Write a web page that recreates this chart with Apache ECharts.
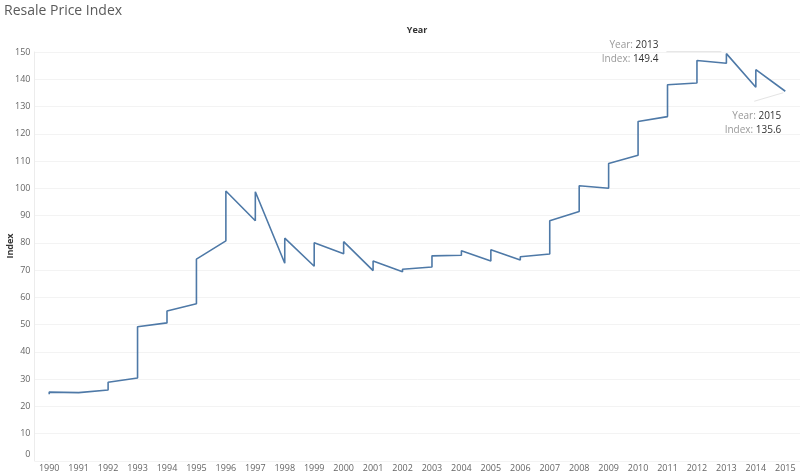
<!DOCTYPE html>
<html>
<head>
<meta charset="utf-8">
<script src="https://cdn.jsdelivr.net/npm/echarts@6/dist/echarts.min.js"></script>
<style>html,body{margin:0;padding:0;background:#fff}#c{width:800px;height:474px}</style>
</head>
<body>
<div id="c"></div>
<script>
// ---- data ----
const years = ['1990','1991','1992','1993','1994','1995','1996','1997','1998','1999','2000','2001','2002','2003','2004','2005','2006','2007','2008','2009','2010','2011','2012','2013','2014','2015'];
// index value where the line reaches each year
const enterIndex = [24.4,25.0,26.0,30.4,50.6,57.6,80.7,88.1,72.5,71.4,76.0,69.8,69.4,71.1,75.4,73.3,73.7,75.9,91.5,100.0,112.1,126.3,138.6,145.9,137.1,135.6];
// index value where the line leaves each year
const leaveIndex = [25.2,25.7,28.8,49.2,55.0,74.0,99.0,98.7,81.7,80.0,80.4,73.3,70.3,75.2,77.1,77.4,74.9,88.1,100.9,109.1,124.5,138.0,146.9,149.4,143.5,135.6];
const yTicks = [0,10,20,30,40,50,60,70,80,90,100,110,120,130,140,150];
const annotations = [
  {year: '2013', value: 149.4},
  {year: '2015', value: 135.6}
];

const seriesData = [];
years.forEach((y, i) => {
  seriesData.push([i, enterIndex[i]]);
  seriesData.push([i, leaveIndex[i]]);
});

const chart = echarts.init(document.getElementById('c'), null, {renderer: 'canvas'});
const FONT = 'Open Sans';
chart.setOption({
  animation: false,
  backgroundColor: '#fff',
  grid: {left: 34.5, right: 0, top: 52, bottom: 13.2, containLabel: false, outerBoundsMode: 'none'},
  xAxis: {
    type: 'category',
    data: years,
    boundaryGap: true,
    axisLine: {show: false},
    axisTick: {show: false},
    axisLabel: {color: '#666', fontSize: 9, fontFamily: FONT, margin: 3, interval: 0},
    splitLine: {show: false}
  },
  yAxis: {
    type: 'value',
    min: yTicks[0],
    max: yTicks[yTicks.length - 1],
    interval: 10,
    axisLine: {show: true, lineStyle: {color: '#ececec', width: 1}},
    axisTick: {show: false},
    axisLabel: {
      color: '#666', fontSize: 9, fontFamily: FONT, margin: 4,
      formatter: v => v === 0 ? '{z|0}' : String(v),
      rich: {z: {color: '#666', fontSize: 9, fontFamily: FONT, padding: [0, 0, 13, 0]}}
    },
    splitLine: {show: true, lineStyle: {color: '#f3f3f3', width: 1}}
  },
  series: [{
    type: 'line',
    data: seriesData,
    showSymbol: false,
    symbol: 'none',
    lineStyle: {color: '#4e79a7', width: 1.6},
    itemStyle: {color: '#4e79a7'}
  }]
});

const elements = [
  {type: 'text', left: 4, top: 4, style: {text: 'Resale Price Index', fill: '#5a5a5a', font: '14px "Open Sans"'}},
  {type: 'text', x: 417, y: 30, style: {text: 'Year', fill: '#333', font: 'bold 9px "Open Sans"', align: 'center', verticalAlign: 'middle'}},
  {type: 'text', x: 10, y: 246, rotation: Math.PI / 2, style: {text: 'Index', fill: '#333', font: 'bold 9px "Open Sans"', align: 'center', verticalAlign: 'middle'}}
];

// annotation 1 (peak)
const a1 = chart.convertToPixel({seriesIndex: 0}, [years.indexOf(annotations[0].year), annotations[0].value]);
elements.push({type: 'line', shape: {x1: a1[0] - 5, y1: a1[1] - 2, x2: a1[0] - 60, y2: a1[1] - 2}, style: {stroke: '#e4e4e4', lineWidth: 1}});
elements.push({type: 'text', x: a1[0] - 68, y: a1[1] - 8, style: {
  text: '{l|Year: }{v|' + annotations[0].year + '}', align: 'right', verticalAlign: 'middle',
  rich: {l: {fill: '#999', font: '10px "Open Sans"'}, v: {fill: '#333', font: '10px "Open Sans"'}}}});
elements.push({type: 'text', x: a1[0] - 68, y: a1[1] + 5.5, style: {
  text: '{l|Index: }{v|' + annotations[0].value.toFixed(1) + '}', align: 'right', verticalAlign: 'middle',
  rich: {l: {fill: '#999', font: '10px "Open Sans"'}, v: {fill: '#333', font: '10px "Open Sans"'}}}});

// annotation 2 (last)
const a2 = chart.convertToPixel({seriesIndex: 0}, [years.indexOf(annotations[1].year), annotations[1].value]);
elements.push({type: 'line', shape: {x1: a2[0] - 2, y1: a2[1] + 1.5, x2: a2[0] - 31, y2: a2[1] + 10}, style: {stroke: '#e4e4e4', lineWidth: 1}});
elements.push({type: 'text', x: a2[0] - 4, y: a2[1] + 25, style: {
  text: '{l|Year: }{v|' + annotations[1].year + '}', align: 'right', verticalAlign: 'middle',
  rich: {l: {fill: '#999', font: '10px "Open Sans"'}, v: {fill: '#333', font: '10px "Open Sans"'}}}});
elements.push({type: 'text', x: a2[0] - 4, y: a2[1] + 38.5, style: {
  text: '{l|Index: }{v|' + annotations[1].value.toFixed(1) + '}', align: 'right', verticalAlign: 'middle',
  rich: {l: {fill: '#999', font: '10px "Open Sans"'}, v: {fill: '#333', font: '10px "Open Sans"'}}}});

chart.setOption({graphic: {elements: elements}});
</script>
</body>
</html>
